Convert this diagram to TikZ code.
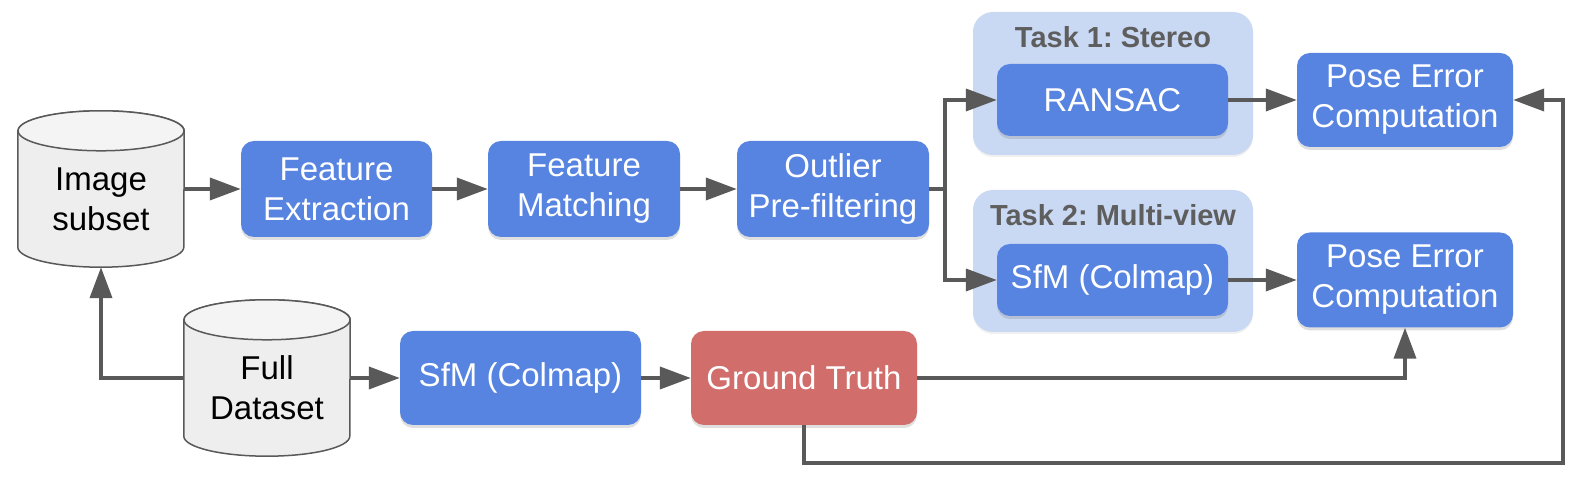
\documentclass[tikz,border=0pt]{standalone}
\usepackage{fontspec}
\setmainfont{Liberation Sans}
\frenchspacing
\usetikzlibrary{arrows.meta,shadows}
\definecolor{procblue}{HTML}{5784E1}
\definecolor{gtred}{HTML}{D16D6A}
\definecolor{taskbg}{HTML}{C9D8F3}
\definecolor{wire}{HTML}{595959}
\definecolor{dbfill}{HTML}{EEEEEE}
\definecolor{dbtop}{HTML}{F4F4F4}
\definecolor{titlegray}{HTML}{5E5E5E}
\tikzset{big/.style={font=\fontsize{33}{40}\selectfont}}
\tikzset{ttl/.style={font=\fontsize{29}{30}\selectfont\bfseries, text=titlegray}}
\tikzset{proc/.style={big, text=white, fill=procblue, rounded corners=13pt, align=center, inner sep=0pt,
  drop shadow={shadow xshift=0pt, shadow yshift=-3pt, opacity=0.25}}}
\tikzset{task/.style={fill=taskbg, rounded corners=20pt, inner sep=0pt,
  drop shadow={shadow xshift=0pt, shadow yshift=-2pt, opacity=0.12}}}
\tikzset{db/.style={minimum width=166pt, minimum height=156pt, inner sep=0pt}}
\tikzset{dbline/.style={draw=wire, line width=1.5pt}}
\tikzset{flow/.style={draw=wire, line width=3.8pt, -{Triangle[length=31pt,width=22pt]}}}

\begin{document}
\begin{tikzpicture}[x=1pt, y=1pt]
  \useasboundingbox (0,0) rectangle (1580,486);
  % task groups
  \node[task, minimum width=280pt, minimum height=143pt] (task1) at (1113,402.5) {};
  \node[ttl] (task1title) at (1113,449) {Task 1: Stereo};
  \node[task, minimum width=280pt, minimum height=142pt] (task2) at (1113,225) {};
  \node[ttl] (task2title) at (1113,271) {Task 2: Multi-view};
  % data sets
  \node[db] (img) at (101,297) {};
  \node[db] (full) at (267,108) {};
  \foreach \c in {img,full} {
    \draw[dbline, fill=dbfill] ([yshift=-20pt]\c.north west) -- ([yshift=20pt]\c.south west)
      arc[start angle=180, end angle=360, x radius=83pt, y radius=20pt]
      -- ([yshift=-20pt]\c.north east)
      arc[start angle=0, end angle=180, x radius=83pt, y radius=20pt] -- cycle;
    \draw[dbline, fill=dbtop] ([yshift=-20pt]\c.north) ellipse[x radius=83pt, y radius=20pt];
  }
  \node[big, align=center] (imgtext) at ([yshift=-10pt]img.center) {Image\\subset};
  \node[big, align=center] (fulltext) at ([yshift=-10pt]full.center) {Full\\Dataset};
  % pipeline
  \node[proc, minimum width=191pt, minimum height=96pt] (fe) at (336.5,297) {Feature\\Extraction};
  \node[proc, minimum width=192pt, minimum height=96pt] (fm) at (584,297) {Feature\\Matching};
  \node[proc, minimum width=192pt, minimum height=96pt] (ol) at (833,297) {Outlier\\Pre-filtering};
  \node[proc, minimum width=231pt, minimum height=72pt] (ransac) at (1112.5,386) {RANSAC};
  \node[proc, minimum width=231pt, minimum height=72pt] (sfmmv) at (1112.5,206) {SfM (Colmap)};
  \node[proc, minimum width=216pt, minimum height=94pt] (pose1) at (1405,386) {Pose Error\\Computation};
  \node[proc, minimum width=216pt, minimum height=95pt] (pose2) at (1405,206) {Pose Error\\Computation};
  \node[proc, minimum width=241pt, minimum height=94pt] (sfm) at (520.5,108) {SfM (Colmap)};
  \node[proc, fill=gtred, minimum width=226pt, minimum height=94pt] (gt) at (804,108) {Ground Truth};
  \coordinate (loopcorner) at (1563,23);
  % connectors
  \draw[flow] (img.east) -- (fe.west);
  \draw[flow] (fe.east) -- (fm.west);
  \draw[flow] (fm.east) -- (ol.west);
  \draw[flow] (ol.east) -- ++(16,0) |- (ransac.west);
  \draw[flow] (ol.east) -- ++(16,0) |- (sfmmv.west);
  \draw[flow] (ransac.east) -- (pose1.west);
  \draw[flow] (sfmmv.east) -- (pose2.west);
  \draw[flow] (full.west) -| (img.south);
  \draw[flow] (full.east) -- (sfm.west);
  \draw[flow] (sfm.east) -- (gt.west);
  \draw[flow] (gt.east) -| (pose2.south);
  \draw[flow] (gt.south) |- (loopcorner) |- (pose1.east);
\end{tikzpicture}
\end{document}
